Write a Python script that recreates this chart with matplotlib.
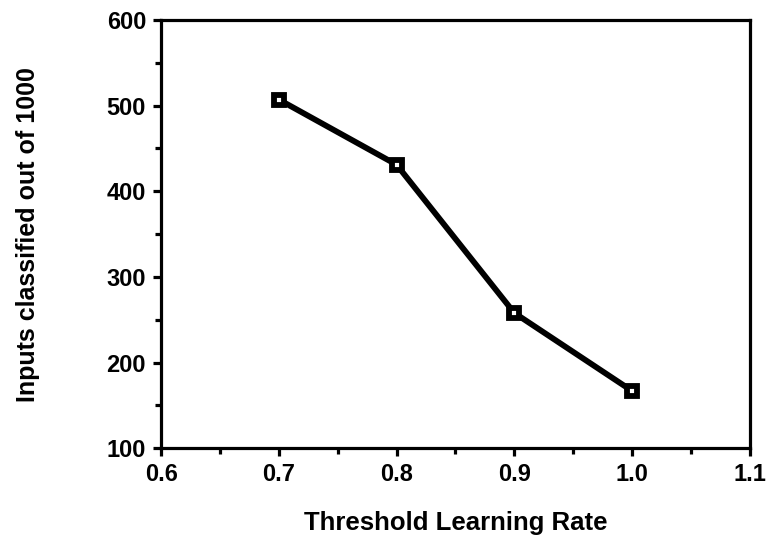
import matplotlib
matplotlib.use("Agg")
import matplotlib.pyplot as plt
from matplotlib.ticker import MultipleLocator

# data
rates = [0.7, 0.8, 0.9, 1.0]
classified = [507, 431, 258, 167]

x_ticks = [0.6, 0.7, 0.8, 0.9, 1.0, 1.1]
y_ticks = [100, 200, 300, 400, 500, 600]


def main() -> None:
    plt.rcParams["font.family"] = ["Liberation Sans", "DejaVu Sans"]
    plt.rcParams["font.weight"] = "bold"

    fig = plt.figure(figsize=(7.68, 5.4), dpi=100)
    ax = fig.add_axes([0.21, 0.17, 0.766, 0.793])

    ax.plot(rates, classified, color="black", lw=4.2, marker="s", ms=6.5,
            mfc="white", mec="black", mew=4.2, zorder=3)

    ax.set_xlim(0.6, 1.1)
    ax.set_ylim(100, 600)
    ax.set_xticks(x_ticks)
    ax.set_xticklabels([f"{v:.1f}" for v in x_ticks])
    ax.set_yticks(y_ticks)
    ax.xaxis.set_minor_locator(MultipleLocator(0.05))
    ax.yaxis.set_minor_locator(MultipleLocator(50))

    for s in ax.spines.values():
        s.set_linewidth(2.3)
    ax.tick_params(which="major", direction="out", length=6, width=2.3,
                   labelsize=17, pad=5)
    ax.tick_params(which="minor", direction="out", length=4, width=2.3)

    ax.set_xlabel("Threshold Learning Rate", fontsize=18.5, fontweight="bold",
                  labelpad=18)
    ax.set_ylabel("Inputs classified out of 1000", fontsize=18,
                  fontweight="bold", labelpad=48)

    fig.savefig("out.png", dpi=100)


if __name__ == "__main__":
    main()
